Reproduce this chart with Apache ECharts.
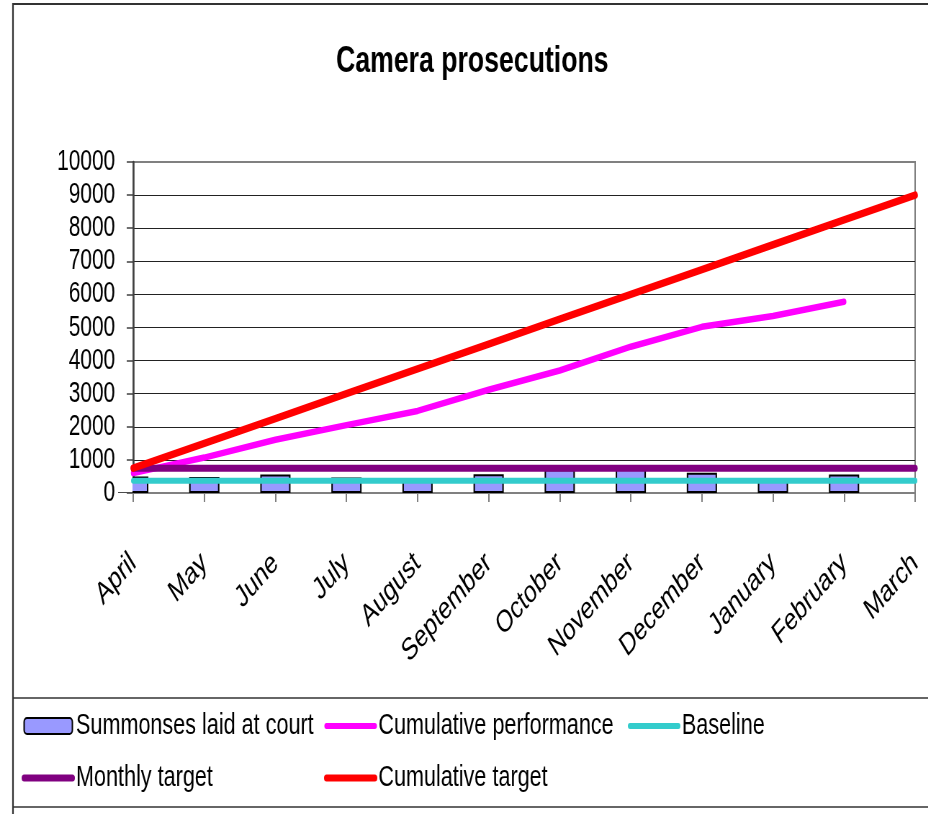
<!DOCTYPE html>
<html>
<head>
<meta charset="utf-8">
<script src="https://cdn.jsdelivr.net/npm/echarts@6/dist/echarts.min.js"></script>
<style>
html,body{margin:0;padding:0;overflow:hidden;background:#fff;}
#wrap{width:928px;height:814px;overflow:hidden;position:relative;}
#chart{width:1289px;height:814px;transform:scaleX(0.72);transform-origin:0 0;}
</style>
</head>
<body>
<div id="wrap"><div id="chart"></div></div>
<script>
// ---- data ----
const categories = ['April','May','June','July','August','September','October','November','December','January','February','March'];
const summonsesLaid = [500, 480, 560, 470, 450, 570, 720, 740, 610, 430, 560, null];
const cumulativePerformance = [600, 1070, 1610, 2050, 2480, 3120, 3700, 4420, 5020, 5350, 5780, null];
const baseline = [370, 370, 370, 370, 370, 370, 370, 370, 370, 370, 370, 370];
const monthlyTarget = [750, 750, 750, 750, 750, 750, 750, 750, 750, 750, 750, 750];
const cumulativeTarget = [750, 1500, 2250, 3000, 3750, 4500, 5250, 6000, 6750, 7500, 8250, 9000];
const yTicks = {min: 0, max: 10000, interval: 1000};

const FONT = "'Liberation Sans', Arial, sans-serif";
const chart = echarts.init(document.getElementById('chart'), null, {renderer: 'canvas'});

const lineSeries = (name, data, color, width) => ({
  name, type: 'line', data, symbol: 'none', showSymbol: false,
  lineStyle: {color, width, cap: 'round', join: 'round'},
  itemStyle: {color},
  emphasis: {disabled: true},
  animation: false
});

const legendText = {fontFamily: FONT, fontSize: 30, color: '#000', lineHeight: 34};
const legendCommon = {
  orient: 'vertical', top: 709, padding: 0, itemWidth: 67, itemHeight: 16, itemGap: 18,
  textStyle: legendText, selectedMode: false
};
const lineLegendItem = (name, w) => ({name, itemStyle: {opacity: 0}, lineStyle: {width: w, cap: 'round'}});

// split line colours: top one (at max) grey like the plot frame
const splitColors = [];
for (let v = yTicks.min; v <= yTicks.max; v += yTicks.interval) splitColors.push(v === yTicks.max ? '#808080' : '#222');

chart.setOption({
  animation: false,
  backgroundColor: '#fff',
  title: {
    text: 'Camera prosecutions',
    left: 651, top: 38, textAlign: 'center',
    textStyle: {fontFamily: FONT, fontSize: 37, fontWeight: 'bold', color: '#000'}
  },
  legend: [
    Object.assign({left: 30, data: ['Summonses laid at court', lineLegendItem('Monthly target', 7)]}, legendCommon),
    Object.assign({left: 450, data: [lineLegendItem('Cumulative performance', 6), lineLegendItem('Cumulative target', 7)]}, legendCommon),
    Object.assign({left: 872, data: [lineLegendItem('Baseline', 6)]}, legendCommon)
  ],
  grid: {left: 185, right: 18, top: 162, bottom: 321, show: true, borderColor: '#808080', borderWidth: 2, backgroundColor: 'transparent', outerBoundsMode: 'none'},
  xAxis: {
    type: 'category', data: categories, boundaryGap: false,
    axisLine: {lineStyle: {color: '#808080', width: 2}},
    axisTick: {show: true, length: 9, interval: 0, lineStyle: {color: '#808080', width: 2}},
    axisLabel: {interval: 0, rotate: 40, margin: 66, fontFamily: FONT, fontSize: 31, color: '#000'},
    splitLine: {show: false}
  },
  yAxis: {
    type: 'value', min: yTicks.min, max: yTicks.max, interval: yTicks.interval,
    axisLine: {show: true, lineStyle: {color: '#404040', width: 2.5}},
    axisTick: {show: true, length: 9, lineStyle: {color: '#404040', width: 1.5}},
    axisLabel: {margin: 25, fontFamily: FONT, fontSize: 29, color: '#000', formatter: v => String(v)},
    splitLine: {show: true, lineStyle: {color: splitColors, width: 1.2}}
  },
  series: [
    {
      name: 'Summonses laid at court', type: 'bar', data: summonsesLaid, barWidth: 42,
      itemStyle: {color: '#9999FF', borderColor: '#000', borderWidth: 2},
      emphasis: {disabled: true}, clip: true
    },
    lineSeries('Cumulative performance', cumulativePerformance, '#FF00FF', 6.5),
    lineSeries('Baseline', baseline, '#33CCCC', 6),
    lineSeries('Monthly target', monthlyTarget, '#800080', 7),
    lineSeries('Cumulative target', cumulativeTarget, '#FF0000', 7.5)
  ],
  graphic: [
    // mask the half of the first bar that falls left of the value axis (bars are not clipped on a boundaryGap:false axis)
    {type: 'rect', z: 3, shape: {x: 162, y: 475, width: 22, height: 17.3}, style: {fill: '#fff'}, silent: true},
    {type: 'polyline', shape: {points: [[18, 814], [18, 4], [1300, 4]]}, style: {stroke: '#333', lineWidth: 2.2, fill: null}, silent: true},
    {type: 'line', shape: {x1: 18, y1: 698, x2: 1300, y2: 698}, style: {stroke: '#333', lineWidth: 1.6}, silent: true},
    {type: 'line', shape: {x1: 18, y1: 807, x2: 1300, y2: 807}, style: {stroke: '#333', lineWidth: 1.6}, silent: true}
  ]
});
</script>
</body>
</html>
